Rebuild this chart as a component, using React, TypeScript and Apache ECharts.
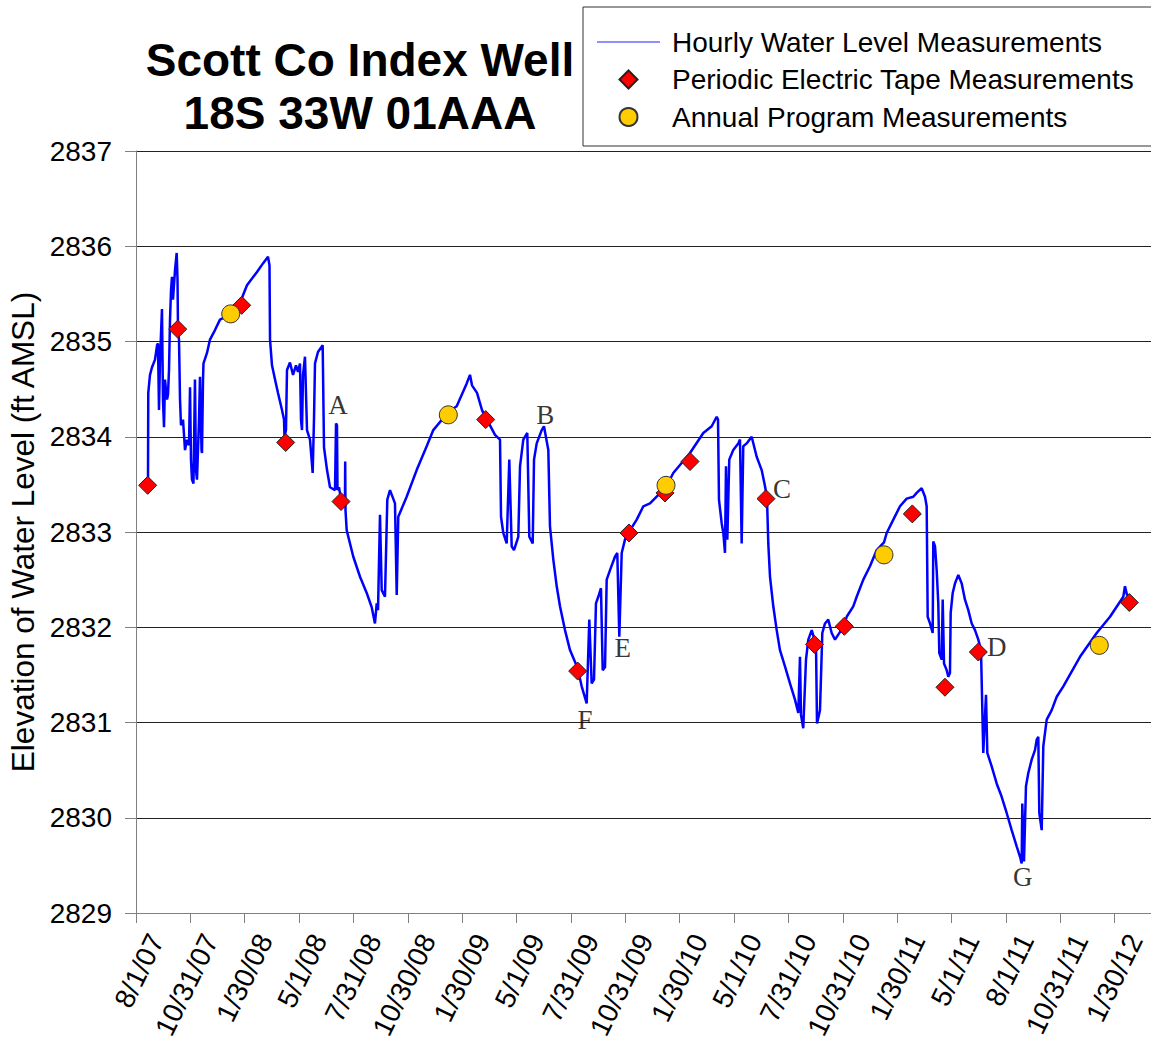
import React, { useEffect, useRef } from 'react';
import * as echarts from 'echarts';

// x values are days since 8/1/07; y values are elevation (ft AMSL)
const tickLabels = [
  '8/1/07', '10/31/07', '1/30/08', '5/1/08', '7/31/08', '10/30/08', '1/30/09',
  '5/1/09', '7/31/09', '10/31/09', '1/30/10', '5/1/10', '7/31/10', '10/31/10',
  '1/30/11', '5/1/11', '8/1/11', '10/31/11', '1/30/12',
];
const TICK_DAYS = 91.28;
const X_MAX_DAYS = 1704;

const hourlyLevels: [number, number][] = [
  [20.1, 2833.5], [20.6, 2834.46], [23.5, 2834.65], [26.9, 2834.73], [31.9, 2834.81], [35.3, 2834.96],
  [36.9, 2834.98], [38.6, 2834.28], [40.3, 2834.81], [43.6, 2835.34], [45.3, 2834.39], [47.0, 2834.1],
  [48.7, 2834.6], [52.0, 2834.39], [53.7, 2834.44], [55.4, 2834.7], [57.1, 2835.23], [58.8, 2835.54],
  [60.4, 2835.68], [62.1, 2835.44], [65.5, 2835.75], [68.3, 2835.93], [69.7, 2835.65], [70.5, 2835.13],
  [72.2, 2835.02], [73.9, 2834.39], [75.5, 2834.12], [78.9, 2834.18], [82.3, 2833.86], [85.6, 2833.97],
  [89.0, 2833.91], [90.7, 2834.52], [92.3, 2833.76], [94.0, 2833.55], [96.5, 2833.51], [99.0, 2834.6],
  [100.7, 2833.65], [102.4, 2833.55], [105.8, 2834.18], [107.4, 2834.63], [110.0, 2833.86], [110.8, 2833.83],
  [112.5, 2834.6], [113.3, 2834.77], [119.2, 2834.88], [124.2, 2835.02], [132.6, 2835.12], [141.0, 2835.23],
  [151.1, 2835.26], [159.5, 2835.31], [167.9, 2835.37], [178.0, 2835.46], [186.3, 2835.59], [203.1, 2835.73],
  [213.2, 2835.82], [221.6, 2835.89], [224.1, 2835.8], [225.0, 2835.02], [228.3, 2834.75], [233.4, 2834.6],
  [238.4, 2834.46], [245.1, 2834.28], [248.5, 2834.18], [249.3, 2834.0], [251.8, 2834.07], [253.5, 2834.7],
  [258.5, 2834.78], [263.6, 2834.65], [268.6, 2834.75], [272.0, 2834.68], [275.3, 2834.77], [277.0, 2834.18],
  [278.7, 2834.07], [280.4, 2834.65], [283.7, 2834.84], [287.1, 2834.07], [292.1, 2833.97], [296.6, 2833.62],
  [298.8, 2834.18], [300.5, 2834.77], [305.5, 2834.89], [313.4, 2834.96], [315.6, 2833.89], [320.7, 2833.65],
  [325.7, 2833.47], [334.1, 2833.44], [335.8, 2834.14], [337.4, 2834.12], [338.3, 2833.44], [340.8, 2833.47],
  [344.2, 2833.34], [350.9, 2833.39], [351.2, 2833.74], [351.7, 2833.23], [353.7, 2833.02], [364.8, 2832.74],
  [376.1, 2832.53], [387.3, 2832.36], [395.7, 2832.21], [401.2, 2832.04], [404.1, 2832.25], [406.3, 2832.18],
  [409.6, 2833.18], [412.5, 2832.39], [418.0, 2832.32], [421.9, 2833.34], [426.4, 2833.44], [434.8, 2833.3],
  [437.7, 2832.34], [440.3, 2833.16], [454.4, 2833.37], [471.2, 2833.65], [488.0, 2833.9], [499.1, 2834.07],
  [524.3, 2834.26], [538.4, 2834.32], [555.2, 2834.56], [560.7, 2834.65], [564.1, 2834.54], [572.5, 2834.46],
  [580.9, 2834.28], [587.1, 2834.2], [594.3, 2834.12], [602.7, 2834.02], [611.1, 2833.97], [612.8, 2833.16],
  [616.6, 2832.99], [622.3, 2832.88], [626.7, 2833.76], [630.7, 2832.85], [634.6, 2832.81], [641.8, 2832.95],
  [644.7, 2833.69], [650.2, 2833.97], [656.9, 2834.04], [660.3, 2832.95], [666.0, 2832.88], [668.2, 2833.76],
  [672.7, 2833.93], [681.1, 2834.07], [684.9, 2834.11], [692.2, 2833.86], [695.0, 2833.06], [700.6, 2832.71],
  [706.3, 2832.43], [711.8, 2832.22], [720.2, 2831.97], [728.6, 2831.76], [741.5, 2831.57], [748.2, 2831.38],
  [756.6, 2831.2], [761.0, 2832.08], [765.0, 2831.41], [768.9, 2831.45], [772.2, 2832.25], [776.1, 2832.32],
  [780.6, 2832.41], [783.5, 2831.55], [787.4, 2831.58], [790.2, 2832.5], [795.8, 2832.6], [804.1, 2832.74],
  [808.0, 2832.78], [811.4, 2831.9], [815.4, 2832.78], [820.9, 2832.92], [827.6, 2833.0], [840.6, 2833.13],
  [851.7, 2833.27], [862.9, 2833.3], [889.8, 2833.47], [902.0, 2833.62], [930.1, 2833.83], [952.4, 2834.04],
  [966.5, 2834.11], [974.9, 2834.21], [977.1, 2834.18], [978.7, 2833.34], [983.3, 2833.09], [986.0, 2832.99],
  [988.8, 2832.78], [990.5, 2833.69], [992.7, 2832.92], [996.0, 2833.76], [1002.7, 2833.86], [1011.1, 2833.93],
  [1014.0, 2833.97], [1016.8, 2832.88], [1019.5, 2833.9], [1025.2, 2833.93], [1033.6, 2834.0], [1042.0, 2833.79],
  [1050.4, 2833.65], [1056.0, 2833.48], [1059.3, 2833.36], [1061.5, 2832.88], [1064.4, 2832.53], [1069.9, 2832.22],
  [1075.6, 2831.97], [1081.1, 2831.76], [1089.5, 2831.59], [1097.9, 2831.41], [1106.3, 2831.24], [1111.9, 2831.1],
  [1114.7, 2831.69], [1116.4, 2831.08], [1120.2, 2830.94], [1124.8, 2831.66], [1128.7, 2831.87], [1134.4, 2831.97],
  [1139.1, 2831.87], [1141.6, 2831.81], [1143.3, 2830.99], [1148.3, 2831.13], [1152.2, 2831.94], [1156.7, 2832.04],
  [1162.2, 2832.08], [1167.9, 2831.94], [1173.5, 2831.87], [1189.1, 2832.02], [1193.1, 2832.11], [1204.2, 2832.22],
  [1209.9, 2832.32], [1221.0, 2832.5], [1232.2, 2832.64], [1243.5, 2832.81], [1255.7, 2832.89], [1260.3, 2832.99],
  [1271.4, 2833.13], [1282.6, 2833.27], [1293.8, 2833.35], [1305.0, 2833.37], [1310.6, 2833.41], [1319.0, 2833.46],
  [1324.6, 2833.37], [1327.4, 2833.27], [1329.1, 2832.11], [1333.0, 2832.04], [1337.5, 2831.94], [1338.5, 2832.9],
  [1341.4, 2832.85], [1344.2, 2832.6], [1346.9, 2832.25], [1348.6, 2831.73], [1352.6, 2831.66], [1354.3, 2832.29],
  [1356.5, 2831.62], [1361.0, 2831.55], [1363.7, 2831.48], [1366.5, 2831.52], [1367.7, 2832.15], [1371.1, 2832.36],
  [1374.9, 2832.46], [1380.5, 2832.55], [1386.2, 2832.46], [1391.7, 2832.29], [1397.3, 2832.18], [1403.0, 2832.04],
  [1408.5, 2831.97], [1414.1, 2831.87], [1418.6, 2831.76], [1422.4, 2830.68], [1427.0, 2831.29], [1429.2, 2830.68],
  [1436.5, 2830.54], [1444.9, 2830.36], [1453.3, 2830.22], [1461.7, 2830.05], [1470.1, 2829.87], [1478.5, 2829.7],
  [1484.1, 2829.59], [1486.9, 2829.52], [1487.9, 2830.15], [1490.8, 2829.54], [1494.1, 2830.33], [1498.0, 2830.47],
  [1503.7, 2830.61], [1509.2, 2830.71], [1512.1, 2830.82], [1514.8, 2830.85], [1516.5, 2830.05], [1520.5, 2829.87],
  [1523.2, 2830.75], [1528.9, 2831.03], [1537.3, 2831.13], [1545.7, 2831.27], [1556.8, 2831.38], [1584.8, 2831.69],
  [1612.8, 2831.94], [1635.2, 2832.11], [1657.5, 2832.32], [1660.3, 2832.43], [1663.7, 2832.34], [1668.7, 2832.31],
];

const tapeMeasurements: [number, number][] = [
  [19.6, 2833.49], [70.0, 2835.13], [177.4, 2835.38], [251.3, 2833.94], [344.2, 2833.32], [587.1, 2834.18],
  [741.5, 2831.54], [827.6, 2832.99], [888.1, 2833.41], [930.1, 2833.74], [1057.6, 2833.35], [1139.1, 2831.82],
  [1189.1, 2832.01], [1303.3, 2833.19], [1358.1, 2831.37], [1414.1, 2831.74], [1667.6, 2832.26],
];

const annualMeasurements: [number, number][] = [
  [159.0, 2835.29], [524.3, 2834.23], [889.8, 2833.49], [1255.7, 2832.76], [1617.2, 2831.81],
];

const annotations: [number, number, string][] = [
  [339.1, 2834.33, 'A'], [687.1, 2834.23, 'B'], [1084.5, 2833.45, 'C'], [1445.0, 2831.79, 'D'],
  [817.0, 2831.78, 'E'], [753.8, 2831.03, 'F'], [1488.6, 2829.38, 'G'],
];

const SERIES_HOURLY = 'Hourly Water Level Measurements';
const SERIES_TAPE = 'Periodic Electric Tape Measurements';
const SERIES_ANNUAL = 'Annual Program Measurements';

export default function App() {
  const ref = useRef<HTMLDivElement>(null);

  useEffect(() => {
    if (!ref.current) return;
    const chart = echarts.init(ref.current, null, { renderer: 'svg' });
    const sans = '"Liberation Sans", Arial, sans-serif';
    chart.setOption({
      animation: false,
      backgroundColor: '#ffffff',
      textStyle: { fontFamily: sans },
      title: {
        text: 'Scott Co Index Well\n18S 33W 01AAA',
        left: 360,
        top: 33,
        padding: 0,
        textAlign: 'center',
        textStyle: { fontSize: 46, fontWeight: 'bold', color: '#000', lineHeight: 53, fontFamily: sans },
      },
      legend: {
        orient: 'vertical',
        left: 583,
        top: 7,
        padding: [21, 30, 15, 14],
        itemGap: 9.5,
        itemWidth: 63,
        itemHeight: 18,
        symbolKeepAspect: true,
        borderColor: '#333',
        borderWidth: 1,
        borderRadius: 0,
        backgroundColor: '#fff',
        selectedMode: false,
        textStyle: { fontSize: 28, color: '#000', fontFamily: sans, padding: [0, 0, 0, 7] },
        data: [
          {
            name: SERIES_HOURLY,
            icon: 'path://M0,0H42V1H0Z',
            itemStyle: { color: '#6a6aff', borderWidth: 0 },
          },
          { name: SERIES_TAPE, icon: 'path://M9,0L18,9L9,18L0,9Z' },
          { name: SERIES_ANNUAL, icon: 'circle' },
        ],
      },
      grid: { left: 136, right: 0, top: 151, bottom: 127, outerBoundsMode: 'none' },
      xAxis: {
        type: 'value',
        min: 0,
        max: X_MAX_DAYS,
        interval: TICK_DAYS,
        splitLine: { show: false },
        axisLine: { show: true, lineStyle: { color: '#808080', width: 1 } },
        axisTick: { show: true, length: 10, lineStyle: { color: '#808080' } },
        axisLabel: {
          showMinLabel: true,
          showMaxLabel: false,
          rotate: 64,
          margin: 13,
          align: 'right',
          verticalAlign: 'top',
          lineHeight: 45,
          fontSize: 28,
          color: '#000',
          formatter: (v: number) => {
            const i = Math.round(v / TICK_DAYS);
            if (Math.abs(v - i * TICK_DAYS) > 0.5 || i < 0 || i >= tickLabels.length) return '';
            return tickLabels[i];
          },
        },
      },
      yAxis: {
        type: 'value',
        min: 2829,
        max: 2837,
        interval: 1,
        name: 'Elevation of Water Level (ft AMSL)',
        nameLocation: 'middle',
        nameGap: 77,
        nameTextStyle: { fontSize: 31.5, color: '#000', fontFamily: sans },
        axisLine: { show: true, lineStyle: { color: '#808080', width: 1 } },
        axisTick: { show: true, length: 11, lineStyle: { color: '#808080' } },
        axisLabel: { fontSize: 28, color: '#000', margin: 24, formatter: (v: number) => String(v) },
        splitLine: { show: true, lineStyle: { color: '#222', width: 1 } },
      },
      series: [
        {
          name: SERIES_HOURLY,
          type: 'line',
          data: hourlyLevels,
          symbol: 'none',
          lineStyle: { color: '#0000ff', width: 2.5 },
          itemStyle: { color: '#0000ff' },
          z: 2,
        },
        {
          name: SERIES_TAPE,
          type: 'scatter',
          data: tapeMeasurements,
          symbol: 'diamond',
          symbolSize: 18,
          itemStyle: { color: '#ff0000', borderColor: '#222', borderWidth: 1, opacity: 1 },
          z: 3,
        },
        {
          name: SERIES_ANNUAL,
          type: 'scatter',
          data: annualMeasurements,
          symbol: 'circle',
          symbolSize: 18,
          itemStyle: { color: '#ffcc00', borderColor: '#333', borderWidth: 1, opacity: 1 },
          z: 4,
        },
        {
          name: 'Annotations',
          type: 'scatter',
          data: annotations,
          symbol: 'circle',
          symbolSize: 1,
          silent: true,
          itemStyle: { color: 'rgba(0,0,0,0)' },
          label: {
            show: true,
            position: 'inside',
            formatter: (p: any) => p.data[2],
            fontFamily: '"Liberation Serif", "Times New Roman", serif',
            fontSize: 27,
            color: '#000',
          },
          z: 5,
        },
      ],
    });
    return () => chart.dispose();
  }, []);

  return (
    <div
      ref={ref}
      style={{ position: 'absolute', left: 0, top: 0, width: 1151, height: 1040, background: '#fff' }}
    />
  );
}
